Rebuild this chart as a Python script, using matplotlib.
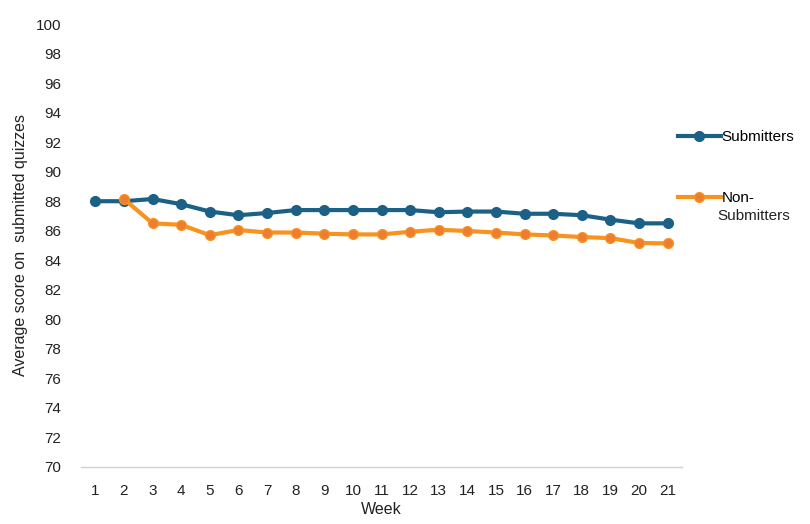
import numpy as np
import matplotlib
matplotlib.use('Agg')
import matplotlib.pyplot as plt

weeks = list(range(1, 22))
submitters = [88.0, 88.0, 88.15, 87.8, 87.3, 87.05, 87.2, 87.4, 87.4, 87.4, 87.4,
              87.4, 87.25, 87.3, 87.3, 87.15, 87.15, 87.05, 86.75, 86.5, 86.5]
non_submitters = [np.nan, 88.15, 86.5, 86.4, 85.7, 86.05, 85.88, 85.88, 85.8, 85.75, 85.75,
                  85.93, 86.07, 85.98, 85.88, 85.75, 85.68, 85.57, 85.5, 85.17, 85.14]

blue = '#1b6185'
orange = '#f7931e'
orange_face = '#ee7d31'

plt.rcParams['font.family'] = ['Liberation Sans', 'DejaVu Sans']

fig = plt.figure(figsize=(8.1, 5.24), dpi=100)
ax = fig.add_axes([0.1, 0.109, 0.742, 0.845])

l1, = ax.plot(weeks, submitters, color=blue, linewidth=3, marker='o', markersize=7,
              markerfacecolor=blue, markeredgecolor=blue, label='Submitters')
l2, = ax.plot(weeks, non_submitters, color=orange, linewidth=3, marker='o', markersize=7,
              markerfacecolor=orange_face, markeredgecolor=orange, label='Non-')

ax.set_xlim(0.5, 21.5)
ax.set_ylim(70, 100)
ax.set_xticks(weeks)
ax.set_yticks(range(70, 101, 2))
ax.tick_params(axis='both', length=0, labelsize=11, colors='#222222')
ax.tick_params(axis='x', pad=12)
ax.tick_params(axis='y', pad=14)
for s in ['top', 'right', 'left']:
    ax.spines[s].set_visible(False)
ax.spines['bottom'].set_color('#d0d0d0')
ax.spines['bottom'].set_linewidth(1)

ax.set_xlabel('Week', fontsize=11.5, color='#222222', labelpad=3)
ax.set_ylabel('Average score on  submitted quizzes', fontsize=11.5, color='#222222', labelpad=6)

leg = fig.legend(handles=[l1, l2], loc='upper left', bbox_to_anchor=(0.82, 0.778),
                 frameon=False, fontsize=11, handlelength=2.8, handletextpad=0.05,
                 labelspacing=3.1)
fig.text(0.886, 0.587, 'Submitters', fontsize=11, color='#222222', va='center')

fig.savefig('out.png', dpi=100)
